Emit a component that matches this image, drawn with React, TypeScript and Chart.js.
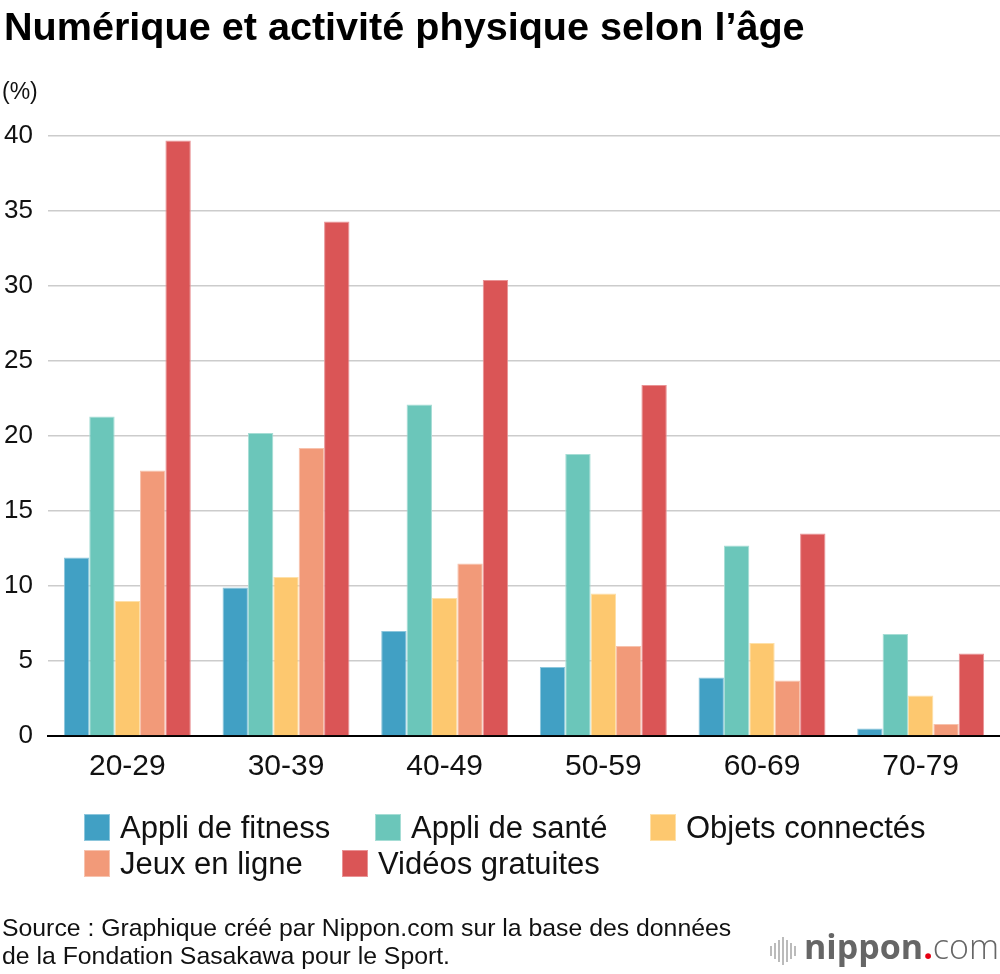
import React, { useEffect, useRef } from "react";
import { Chart, registerables } from "chart.js";

Chart.register(...registerables);

const categories = ["20-29", "30-39", "40-49", "50-59", "60-69", "70-79"];
const seriesNames = ["Appli de fitness", "Appli de santé", "Objets connectés", "Jeux en ligne", "Vidéos gratuites"];
const fitness = [11.9, 9.9, 7.0, 4.6, 3.9, 0.5];
const sante = [21.3, 20.2, 22.1, 18.8, 12.7, 6.8];
const objets = [9.0, 10.6, 9.2, 9.5, 6.2, 2.7];
const jeux = [17.7, 19.2, 11.5, 6.0, 3.7, 0.8];
const videos = [39.7, 34.3, 30.4, 23.4, 13.5, 5.5];
const yTicks = [0, 5, 10, 15, 20, 25, 30, 35, 40];
const colors = ["#41A0C4", "#6BC6BA", "#FDC86F", "#F29A79", "#DA5556"];
const borderColors = ["#8CC6DC", "#A6DDD5", "#FEE0A8", "#F7C2AD", "#E99294"];

const FONT = "'Liberation Sans', Arial, Helvetica, sans-serif";

export default function App() {
  const ref = useRef<HTMLCanvasElement | null>(null);

  useEffect(() => {
    if (!ref.current) return;
    const values = [fitness, sante, objets, jeux, videos];
    const chart = new Chart(ref.current, {
      type: "bar",
      data: {
        labels: categories,
        datasets: seriesNames.map((name, i) => ({
          label: name,
          data: values[i],
          backgroundColor: colors[i],
          borderColor: borderColors[i],
          borderWidth: 1,
          categoryPercentage: 0.8,
          barPercentage: 1.0,
        })),
      },
      options: {
        responsive: false,
        animation: false,
        devicePixelRatio: 1,
        layout: { padding: { top: 136, bottom: 188, left: 0, right: 0 } },
        plugins: {
          legend: { display: false },
          tooltip: { enabled: false },
          title: { display: false },
        },
        scales: {
          x: {
            grid: { display: false, drawTicks: false },
            border: { display: true, color: "#000000", width: 2 },
            ticks: {
              color: "#111111",
              font: { family: FONT, size: 30 },
              padding: 13,
            },
            afterFit: (scale: any) => {
              scale.height = 50;
            },
          },
          y: {
            min: 0,
            max: 40,
            afterBuildTicks: (scale: any) => {
              scale.ticks = yTicks.map((v) => ({ value: v }));
            },
            grid: { color: "#cccccc", lineWidth: 1.5, drawTicks: false },
            border: { display: false },
            ticks: {
              color: "#111111",
              font: { family: FONT, size: 26 },
              padding: 15,
            },
            afterFit: (scale: any) => {
              scale.width = 48;
            },
          },
        },
      },
    });
    return () => chart.destroy();
  }, []);

  const legendRow1 = [
    { i: 0, x: 84 },
    { i: 1, x: 375 },
    { i: 2, x: 650 },
  ];
  const legendRow2 = [
    { i: 3, x: 84 },
    { i: 4, x: 342 },
  ];

  const legendItem = (item: { i: number; x: number }, top: number) => (
    <div
      key={item.i}
      style={{
        position: "absolute",
        left: item.x,
        top,
        height: 27,
        display: "flex",
        alignItems: "center",
        whiteSpace: "nowrap",
      }}
    >
      <div style={{ width: 26, height: 27, background: colors[item.i], boxSizing: "border-box", border: `1px solid ${borderColors[item.i]}` }} />
      <span style={{ marginLeft: 10, fontFamily: FONT, fontSize: 31, lineHeight: "27px", color: "#111" }}>
        {seriesNames[item.i]}
      </span>
    </div>
  );

  const bars = [10, 16, 22, 28, 22, 16, 10];

  return (
    <div style={{ position: "absolute", left: 0, top: 0, width: 1000, height: 974, background: "#fff", overflow: "hidden" }}>
      <canvas ref={ref} width={1000} height={974} style={{ position: "absolute", left: 0, top: 0, width: 1000, height: 974 }} />
      <div
        style={{
          position: "absolute",
          left: 4,
          top: 6,
          fontFamily: FONT,
          fontWeight: 700,
          fontSize: 39.6,
          lineHeight: "40px",
          color: "#000",
          whiteSpace: "nowrap",
        }}
      >
        Numérique et activité physique selon l’âge
      </div>
      <div style={{ position: "absolute", left: 2, top: 80, fontFamily: FONT, fontSize: 23, lineHeight: "23px", color: "#111" }}>
        (%)
      </div>
      {legendRow1.map((it) => legendItem(it, 814))}
      {legendRow2.map((it) => legendItem(it, 850))}
      <div
        style={{
          position: "absolute",
          left: 2,
          top: 914,
          fontFamily: FONT,
          fontSize: 24.8,
          lineHeight: "28px",
          color: "#111",
          whiteSpace: "nowrap",
        }}
      >
        Source : Graphique créé par Nippon.com sur la base des données
        <br />
        de la Fondation Sasakawa pour le Sport.
      </div>
      <div style={{ position: "absolute", left: 770, top: 937, height: 28, display: "flex", alignItems: "center", gap: 2 }}>
        {bars.map((h, k) => (
          <div key={k} style={{ width: 2, height: h, background: "#bbbbbb" }} />
        ))}
      </div>
      <div
        style={{
          position: "absolute",
          left: 804,
          top: 926,
          fontFamily: "'Open Sans', sans-serif",
          fontSize: 34,
          lineHeight: "40px",
          color: "#666666",
          whiteSpace: "nowrap",
        }}
      >
        <span style={{ fontWeight: 700 }}>nippon</span>
        <span style={{ color: "#e60012", fontWeight: 700 }}>.</span>
        <span style={{ fontWeight: 300 }}>com</span>
      </div>
    </div>
  );
}
